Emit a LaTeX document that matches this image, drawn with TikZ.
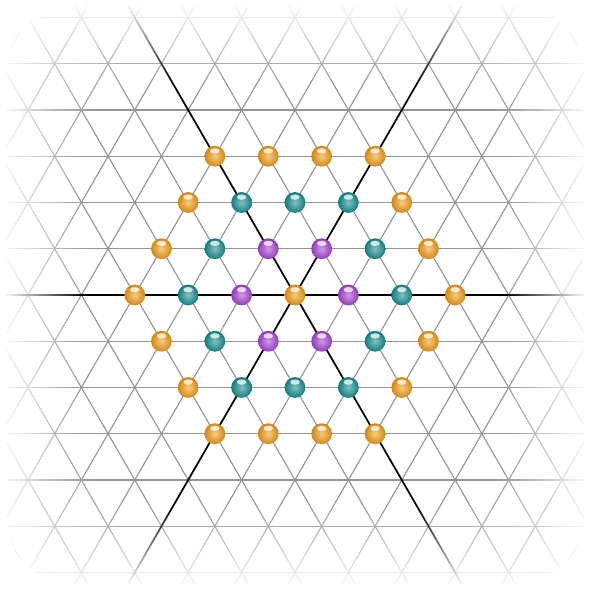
\documentclass[tikz,border=0pt]{standalone}
\usetikzlibrary{shadings}

\definecolor{ringzero}{RGB}{245,160,25}
\definecolor{ringone}{RGB}{170,70,215}
\definecolor{ringtwo}{RGB}{25,145,145}
\definecolor{ringthree}{RGB}{245,160,25}

\tikzset{
  gridline/.style={draw=black!42,line width=.6pt},
  axisline/.style={draw=black,line width=.9pt},
  site/.style={circle,inner sep=0pt,minimum size=.39cm,
    inner color=#1!55!white,outer color=#1!85!black,
    path picture={
      \fill[white,opacity=.75] ([yshift=.1cm]path picture bounding box.center) ellipse (.09cm and .05cm);
    }}
}

\begin{document}
\begin{tikzpicture}
  \useasboundingbox (-5.524,-5.712) rectangle (5.712,5.524);

  % lattice
  \begin{scope}
    \clip (-6,-6) rectangle (6,6);
    \foreach \k in {-7,...,7}
      \draw[gridline] (-7,\k*0.866) -- (7,\k*0.866);
    \foreach \n in {-13,...,13}{
      \draw[gridline] (\n,0) ++(-120:9) -- ++(60:18);
      \draw[gridline] (\n,0) ++(-60:9) -- ++(120:18);
    }
    \draw[axisline] (-7,0) -- (7,0);
    \draw[axisline] (-120:8) -- (60:8);
    \draw[axisline] (-60:8) -- (120:8);
  \end{scope}

  % fade towards the border (layer j hides 1/j of what is outside it)
  \foreach \j in {1,...,20}{
    \pgfmathsetmacro\s{5.4-0.075*(\j-1)}
    \pgfmathsetmacro\op{1/\j}
    \fill[white,fill opacity=\op,even odd rule] (-7,-7) rectangle (7,7)
      [rounded corners=1.2cm] (-\s,-\s) rectangle (\s,\s);
  }

  % sites, coloured by ring
  \foreach \i in {-3,...,3}
    \foreach \j in {-3,...,3}{
      \pgfmathtruncatemacro\d{max(abs(\i),abs(\j),abs(\i+\j))}
      \ifnum\d<4
        \ifcase\d \def\rc{ringzero}\or \def\rc{ringone}\or \def\rc{ringtwo}\or \def\rc{ringthree}\fi
        \draw(\i+\j/2,\j*0.866) node[site=\rc] (b\i\j) {};
      \fi
    }
\end{tikzpicture}
\end{document}
